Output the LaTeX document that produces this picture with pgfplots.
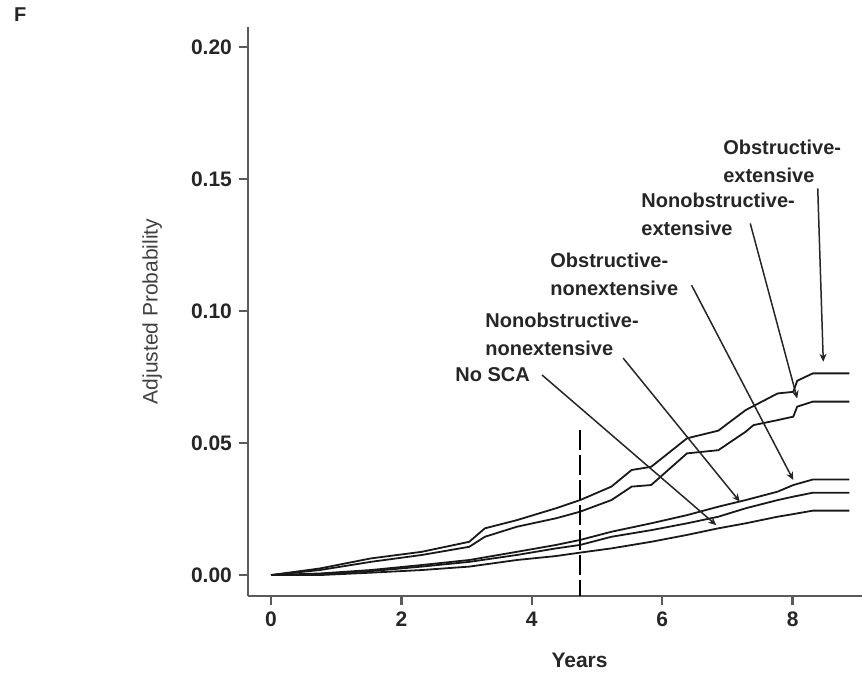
\documentclass[border=0pt]{standalone}
\usepackage{fontspec}
\setmainfont{Liberation Sans}
\usepackage{pgfplots}
\pgfplotsset{compat=1.18}
\usetikzlibrary{arrows.meta}
\definecolor{axgray}{RGB}{90,90,90}
\tikzset{
  lbl/.style={font=\fontsize{10}{14}\selectfont\bfseries, text=black!85, align=left, inner sep=0pt, anchor=north west},
  ptr/.style={black!85, line width=0.75pt, -{Stealth[length=4pt,width=3.5pt]}},
  crv/.style={black!90, line width=0.9pt},
}

\begin{document}
\begin{tikzpicture}
\begin{axis}[scale only axis, width=307pt, height=284.5pt,
  xmin=-0.353, xmax=9.064, ymin=-0.00795, ymax=0.2076,
  axis lines=left, axis line style={-, axgray, line width=1.3pt},
  xtick={0,2,4,6,8}, ytick={0,0.05,0.10,0.15,0.20},
  tick align=outside, major tick length=4.5pt,
  tick style={axgray, line width=1.2pt},
  scaled y ticks=false,
  /pgf/number format/assume math mode=true,
  yticklabel style={/pgf/number format/.cd, fixed, fixed zerofill, precision=2},
  ticklabel style={font=\fontsize{10.5}{12}\selectfont\bfseries, text=black!85},
  no markers, clip=false,
]
% Obstructive-extensive
\addplot[crv] coordinates {(0,0) (0.75,0.0025) (1.53,0.0063) (2.31,0.0088) (3.04,0.0126) (3.28,0.0177) (3.77,0.0208) (4.37,0.0253) (4.74,0.0284) (5.22,0.0335) (5.53,0.0398) (5.83,0.0410) (6.38,0.0518) (6.86,0.0547) (7.28,0.0625) (7.77,0.0688) (8.01,0.0694) (8.07,0.0736) (8.31,0.0764) (8.87,0.0764)};
% Nonobstructive-extensive
\addplot[crv] coordinates {(0,0) (0.75,0.0019) (1.53,0.0050) (2.31,0.0076) (3.04,0.0107) (3.28,0.0145) (3.77,0.0183) (4.37,0.0215) (4.74,0.0240) (5.22,0.0284) (5.53,0.0335) (5.83,0.0341) (6.38,0.0461) (6.86,0.0473) (7.28,0.0543) (7.40,0.0568) (7.77,0.0587) (8.01,0.0600) (8.07,0.0638) (8.31,0.0657) (8.87,0.0657)};
% Obstructive-nonextensive
\addplot[crv] coordinates {(0,0) (0.75,0.0006) (1.53,0.0019) (2.31,0.0038) (3.04,0.0057) (3.77,0.0088) (4.37,0.0114) (4.74,0.0133) (5.22,0.0164) (5.83,0.0196) (6.38,0.0227) (6.86,0.0259) (7.28,0.0284) (7.77,0.0316) (8.01,0.0341) (8.31,0.0362) (8.87,0.0362)};
% Nonobstructive-nonextensive
\addplot[crv] coordinates {(0,0) (0.75,0.0004) (1.53,0.0015) (2.31,0.0032) (3.04,0.0050) (3.77,0.0076) (4.37,0.0101) (4.74,0.0114) (5.22,0.0145) (5.83,0.0170) (6.38,0.0196) (6.86,0.0221) (7.28,0.0253) (7.77,0.0284) (8.01,0.0297) (8.31,0.0312) (8.87,0.0312)};
% No SCA
\addplot[crv] coordinates {(0,0) (0.75,0.0000) (1.53,0.0009) (2.31,0.0019) (3.04,0.0032) (3.77,0.0057) (4.37,0.0072) (4.74,0.0085) (5.22,0.0101) (5.83,0.0126) (6.38,0.0152) (6.86,0.0177) (7.28,0.0196) (7.77,0.0221) (8.01,0.0231) (8.31,0.0244) (8.87,0.0244)};
% landmark line
\addplot[black, line width=1pt, dash pattern=on 10pt off 2.5pt] coordinates {(4.74,0.0549) (4.74,-0.00795)};

\node[lbl] at (axis cs:6.93,0.1648) {Obstructive-\\extensive};
\node[lbl] at (axis cs:5.675,0.1447) {Nonobstructive-\\extensive};
\node[lbl] at (axis cs:4.279,0.1223) {Obstructive-\\nonextensive};
\node[lbl] at (axis cs:3.282,0.0996) {Nonobstructive-\\nonextensive};
\node[lbl] at (axis cs:2.822,0.0788) {No SCA};

\draw[ptr] (axis cs:8.385,0.1465) -- (axis cs:8.47,0.0808);
\draw[ptr] (axis cs:7.35,0.1332) -- (axis cs:8.07,0.0669);
\draw[ptr] (axis cs:6.45,0.1098) -- (axis cs:8.01,0.0360);
\draw[ptr] (axis cs:5.40,0.0822) -- (axis cs:7.19,0.0278);
\draw[ptr] (axis cs:4.156,0.0758) -- (axis cs:6.83,0.0189);

\node[font=\fontsize{10}{12}\selectfont\bfseries, text=black!85] at (rel axis cs:-0.371,1.021) {F};
\node[rotate=90, font=\fontsize{10.5}{12}\selectfont, text=black!75] at (rel axis cs:-0.156,0.5) {Adjusted Probability};
\node[anchor=north, font=\fontsize{10.5}{12}\selectfont\bfseries, text=black!85] at (rel axis cs:0.54,-0.088) {Years};

\coordinate (bbsw) at (rel axis cs:-0.4039,-0.1336);
\coordinate (bbne) at (rel axis cs:1,1.0475);
\end{axis}
\pgfresetboundingbox
\useasboundingbox (bbsw) rectangle (bbne);
\end{tikzpicture}
\end{document}
